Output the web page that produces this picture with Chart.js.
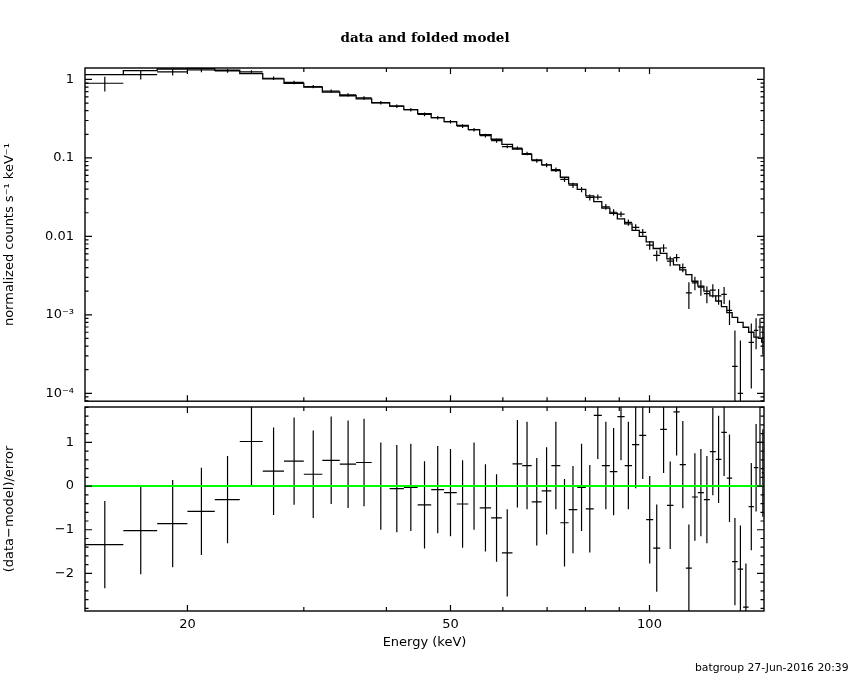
<!DOCTYPE html>
<html><head><meta charset="utf-8">
<script src="https://cdn.jsdelivr.net/npm/chart.js@4.4.1/dist/chart.umd.min.js"></script>
<style>
html,body{margin:0;padding:0;background:#fff;}
body{width:850px;height:680px;position:relative;overflow:hidden;font-family:'DejaVu Sans',sans-serif;}
canvas{position:absolute;left:0;}
#cTop{top:0;}
#cBot{top:380px;}
#stamp{position:absolute;left:695px;top:661px;font-size:10.8px;white-space:nowrap;color:#000;font-family:'DejaVu Sans',sans-serif;}
</style></head><body>
<canvas id="cTop" width="850" height="420"></canvas>
<canvas id="cBot" width="850" height="300"></canvas>
<div id="stamp">batgroup 27-Jun-2016 20:39</div>
<script>
// ---- data ----
const eEdges = [14,16,18,20,22,24,26,28,30,32,34,36,38,40.45,42.5,44.6,46.75,48.9,51.1,53.2,55.35,57.6,59.8,62.05,64.2,66.35,68.7,71.05,73.3,75.45,77.75,80.1,82.35,84.7,87.1,89.4,91.7,94.1,96.5,98.85,101.3,103.8,106.25,108.7,111.1,113.5,115.9,118.35,120.85,123.4,125.95,128.45,130.9,133.35,135.95,138.55,141.25,143.85,146.05,147.8,149];
const modelVal = [1.15,1.30,1.36,1.37,1.31,1.19,1.02,0.89,0.80,0.69,0.62,0.566,0.505,0.458,0.412,0.367,0.327,0.291,0.26,0.229,0.198,0.173,0.149,0.13,0.111,0.0944,0.0817,0.0687,0.0567,0.0468,0.0397,0.0328,0.0278,0.0229,0.0197,0.0167,0.0144,0.0119,0.0100,0.0085,0.00701,0.00607,0.00516,0.00434,0.00375,0.00325,0.00268,0.00232,0.0020,0.00174,0.0015,0.00127,0.00107,0.00093,0.0008,0.000695,0.0006,0.00052,0.0005,0.00045];
const dataVal = [0.895,1.15,1.25,1.32,1.29,1.25,1.037,0.916,0.811,0.71,0.635,0.581,0.505,0.457,0.411,0.359,0.326,0.289,0.254,0.229,0.1925,0.1657,0.139,0.1333,0.1138,0.0924,0.0812,0.0708,0.0533,0.0449,0.0396,0.0314,0.0317,0.0238,0.0203,0.0192,0.01506,0.01304,0.01128,0.00773,0.00573,0.00711,0.00485,0.00536,0.0040,0.0019,0.00256,0.00225,0.00186,0.00206,0.00174,0.00182,0.00114,0.000221,0.0001,-0.00013,0.000445,0.000633,0.0007,0.00051];
const dataErr = [0.19,0.15,0.13,0.08,0.07,0.06,0.05,0.045,0.04,0.035,0.03,0.028,0.025,0.023,0.021,0.019,0.017,0.015,0.014,0.012,0.011,0.010,0.0065,0.0065,0.006,0.0055,0.005,0.0045,0.004,0.0035,0.003,0.0027,0.0024,0.002,0.0018,0.0016,0.0014,0.0012,0.0011,0.001,0.0009,0.0008,0.0007,0.0006,0.0005,0.00071,0.0005,0.0005,0.00045,0.0004,0.0004,0.00045,0.0004,0.00041,0.00037,0.0003,0.00033,0.00027,0.0002,0.0002];
const resid = [-1.34,-1.02,-0.86,-0.58,-0.31,1.02,0.34,0.57,0.27,0.59,0.50,0.54,0.0,-0.06,-0.03,-0.43,-0.08,-0.15,-0.41,0.0,-0.50,-0.73,-1.53,0.51,0.47,-0.36,-0.11,0.47,-0.84,-0.54,-0.03,-0.52,1.62,0.47,0.33,1.59,0.47,0.95,1.16,-0.77,-1.42,1.30,-0.44,1.70,0.49,-1.88,-0.25,-0.15,-0.31,0.79,0.61,1.23,0.18,-1.73,-1.90,-2.77,-0.47,0.42,1.0,0.30];
const residErr = 1;

// ---- axes ----
const xMin = 14, xMax = 149;
const yTopMin = 7.93e-5, yTopMax = 1.40;
const yResMin = -2.86, yResMax = 1.81;
const xTickValues = [20,30,40,50,60,70,80,90,100];
const xTickLabels = ['20','','','50','','','','','100'];
const yTopMajor = [1,0.1,0.01,0.001,0.0001];
const yTopMajorLabels = ['1','0.1','0.01','10\u207B\u00B3','10\u207B\u2074'];
const yResMajor = [1,0,-1,-2];
const yResMajorLabels = ['1','0','\u22121','\u22122'];

Chart.defaults.font.family = "'DejaVu Sans', sans-serif";
Chart.defaults.font.size = 13;
Chart.defaults.color = '#000';

// ---- build line-segment data from arrays ----
const modelPts = [];
const dataPts = [];
const residPts = [];
for (let i = 0; i < modelVal.length; i++) {
  const lo = eEdges[i], hi = eEdges[i+1], c = (lo + hi) / 2;
  modelPts.push({x: lo, y: modelVal[i]}, {x: hi, y: modelVal[i]});
  const d = dataVal[i], s = dataErr[i];
  if (d > 0) {
    dataPts.push({x: lo, y: d}, {x: hi, y: d}, {x: hi, y: null},
                 {x: c, y: Math.max(d - s, 1e-7)}, {x: c, y: d + s}, {x: c, y: null});
  }
  const r = resid[i];
  residPts.push({x: lo, y: r}, {x: hi, y: r}, {x: hi, y: null},
                {x: c, y: r - residErr}, {x: c, y: r + residErr}, {x: c, y: null});
}

function logTicks(min, max) {
  const out = [];
  for (let e = -6; e <= 2; e++) for (let k = 1; k <= 9; k++) {
    const v = +(k * Math.pow(10, e)).toPrecision(6);
    if (v >= min && v <= max) out.push({value: v, major: k === 1});
  }
  return out;
}
function linTicks(min, max) {
  const out = [];
  for (let i = -20; i <= 20; i++) {
    const v = i / 5;
    if (v >= min && v <= max) out.push({value: v, major: i % 5 === 0});
  }
  return out;
}
function labelFor(v, vals, labs, isLog) {
  for (let i = 0; i < vals.length; i++) {
    if (isLog ? Math.abs(Math.log10(v) - Math.log10(vals[i])) < 1e-6 : Math.abs(v - vals[i]) < 1e-6) return labs[i];
  }
  return '';
}

const frameTicks = {
  id: 'frameTicks',
  afterDraw(chart) {
    const {ctx, chartArea: a} = chart;
    const xs = chart.scales.x, ys = chart.scales.y;
    ctx.save();
    ctx.strokeStyle = '#000';
    ctx.lineWidth = 1.4;
    ctx.strokeRect(a.left, a.top, a.right - a.left, a.bottom - a.top);
    ctx.lineWidth = 1.2;
    ctx.beginPath();
    xs.ticks.forEach(t => {
      const px = xs.getPixelForValue(t.value);
      const len = t.major ? 6 : 4;
      ctx.moveTo(px, a.top); ctx.lineTo(px, a.top + len);
      ctx.moveTo(px, a.bottom); ctx.lineTo(px, a.bottom - len);
    });
    ys.ticks.forEach(t => {
      const py = ys.getPixelForValue(t.value);
      const len = t.major ? 7 : 3.5;
      ctx.moveTo(a.left, py); ctx.lineTo(a.left + len, py);
      ctx.moveTo(a.right, py); ctx.lineTo(a.right - len, py);
    });
    ctx.stroke();
    ctx.restore();
  }
};

const xTickObjs = () => xTickValues.map((v, i) => ({value: v, major: xTickLabels[i] !== ''}));
const lineDs = (data, color, width) => ({data, borderColor: color, borderWidth: width, pointRadius: 0, fill: false, tension: 0, spanGaps: false});

// ---- top panel ----
new Chart(document.getElementById('cTop'), {
  type: 'line',
  data: {datasets: [lineDs(modelPts, '#000', 1.3), lineDs(dataPts, '#000', 1.2)]},
  options: {
    responsive: false, animation: false, events: [],
    layout: {padding: {left: 0, right: 0, top: 0, bottom: 13}},
    plugins: {
      legend: {display: false}, tooltip: {enabled: false},
      title: {display: true, text: 'data and folded model', color: '#000',
              font: {family: "'DejaVu Serif', serif", size: 13.5, weight: 'bold'},
              padding: {top: 30.4, bottom: 21.4}}
    },
    scales: {
      x: {type: 'logarithmic', min: xMin, max: xMax,
          grid: {display: false, drawTicks: false}, border: {display: false},
          ticks: {display: false},
          afterBuildTicks: s => { s.ticks = xTickObjs(); },
          afterFit: s => { s.height = 0; }},
      y: {type: 'logarithmic', position: 'left', min: yTopMin, max: yTopMax,
          grid: {display: false, drawTicks: false}, border: {display: false},
          ticks: {autoSkip: false, padding: 11, color: '#000',
                  callback: v => labelFor(v, yTopMajor, yTopMajorLabels, true)},
          afterBuildTicks: s => { s.ticks = logTicks(yTopMin, yTopMax); },
          afterFit: s => { s.width = 85; },
          title: {display: true, text: 'normalized counts s\u207B\u00B9 keV\u207B\u00B9', color: '#000',
                  padding: {top: 2, bottom: 0}}},
      yR: {type: 'linear', position: 'right', min: 0, max: 1,
           grid: {display: false, drawTicks: false}, border: {display: false},
           ticks: {display: false},
           afterFit: s => { s.width = 86; }}
    }
  },
  plugins: [frameTicks]
});

// ---- residual panel ----
new Chart(document.getElementById('cBot'), {
  type: 'line',
  data: {datasets: [
    lineDs([{x: xMin, y: 0}, {x: xMax, y: 0}], '#00ff00', 2),
    lineDs(residPts, '#000', 1.2)
  ]},
  options: {
    responsive: false, animation: false, events: [],
    layout: {padding: {left: 0, right: 86, top: 27, bottom: 19}},
    plugins: {legend: {display: false}, tooltip: {enabled: false}},
    scales: {
      x: {type: 'logarithmic', min: xMin, max: xMax,
          grid: {display: false, drawTicks: false}, border: {display: false},
          ticks: {autoSkip: false, maxRotation: 0, padding: 6, color: '#000',
                  callback: v => labelFor(v, xTickValues, xTickLabels, true)},
          afterBuildTicks: s => { s.ticks = xTickObjs(); },
          afterFit: s => { s.height = 50; },
          title: {display: true, text: 'Energy (keV)', color: '#000', padding: {top: 0, bottom: 10.2}}},
      y: {type: 'linear', position: 'left', min: yResMin, max: yResMax, bounds: 'data',
          grid: {display: false, drawTicks: false}, border: {display: false},
          ticks: {autoSkip: false, padding: 11, color: '#000',
                  callback: v => labelFor(v, yResMajor, yResMajorLabels, false)},
          afterBuildTicks: s => { s.ticks = linTicks(yResMin, yResMax); },
          afterFit: s => { s.width = 85; },
          title: {display: true, text: '(data\u2212model)/error', color: '#000', padding: {top: 2, bottom: 0}}}
    }
  },
  plugins: [frameTicks]
});
</script>
</body></html>
